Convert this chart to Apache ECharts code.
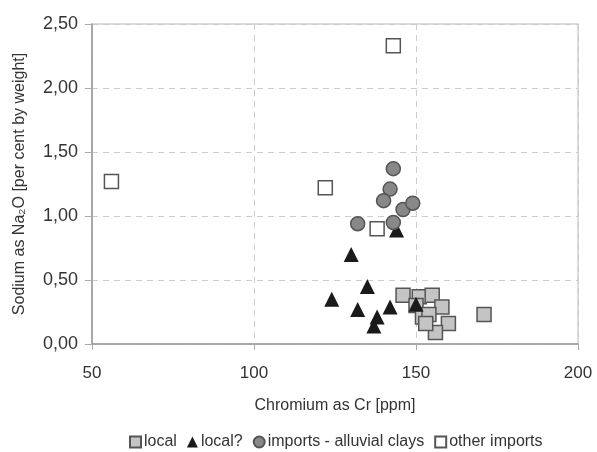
<!DOCTYPE html>
<html><head><meta charset="utf-8">
<script src="https://cdn.jsdelivr.net/npm/echarts@6/dist/echarts.min.js"></script>
<style>html,body{margin:0;padding:0;background:#fff}#c{width:597px;height:452px}</style>
</head><body><div id="c"></div>
<script>
const xTicks = [50, 100, 150, 200];
const yTicks = [0, 0.5, 1.0, 1.5, 2.0, 2.5];
const local = [[146,0.38],[151,0.37],[155,0.38],[150,0.30],[152,0.21],[158,0.29],[154,0.23],[160,0.16],[156,0.09],[153,0.16],[171,0.23]];
const localQ = [[130,0.70],[135,0.45],[124,0.35],[132,0.27],[142,0.29],[138,0.21],[137,0.14],[150,0.31],[144,0.89]];
const alluvial = [[132,0.94],[143,1.37],[142,1.21],[140,1.12],[143,0.95],[146,1.05],[149,1.10]];
const otherImports = [[56,1.27],[143,2.33],[122,1.22],[138,0.90]];
const names = ['local','local?','imports - alluvial clays','other imports'];

const chart = echarts.init(document.getElementById('c'));
const fmt = v => v.toFixed(2).replace('.', ',');
chart.setOption({
  animation: false,
  textStyle: {fontFamily: 'Liberation Sans, Arial, sans-serif'},
  grid: {left: 92, right: 19, top: 24, bottom: 108, show: true, borderColor: '#cfcfcf', borderWidth: 1.5},
  xAxis: {
    type: 'value', min: 50, max: 200, interval: 50,
    name: 'Chromium as Cr [ppm]', nameLocation: 'middle', nameGap: 54,
    nameTextStyle: {fontSize: 16, color: '#333'},
    axisLine: {lineStyle: {color: '#999', width: 1.5}},
    axisTick: {show: true, length: 6, lineStyle: {color: '#aaa'}},
    axisLabel: {fontSize: 17, color: '#333', margin: 21},
    splitLine: {show: true, lineStyle: {type: [6, 5], color: '#ccc'}}
  },
  yAxis: {
    type: 'value', min: 0, max: 2.5, interval: 0.5,
    name: 'Sodium as Na₂O [per cent by weight]', nameLocation: 'middle', nameGap: 64,
    nameTextStyle: {fontSize: 16, color: '#333'},
    axisLine: {show: true, lineStyle: {color: '#999', width: 1.5}},
    axisTick: {show: true, length: 7, lineStyle: {color: '#aaa'}},
    axisLabel: {fontSize: 18, color: '#333', margin: 14, formatter: fmt},
    splitLine: {show: true, lineStyle: {type: [6, 5], color: '#ccc'}}
  },
  legend: {
    top: 429, left: 124, itemWidth: 11, itemHeight: 11, itemGap: 10,
    textStyle: {fontSize: 16, color: '#333', padding: [0,0,0,-2]},
    data: names
  },
  series: [
    {name: names[0], type: 'scatter', symbol: 'rect', symbolSize: 14, data: local,
     itemStyle: {color: '#c4c4c4', borderColor: '#555', borderWidth: 1.5, opacity: 1}},
    {name: names[1], type: 'scatter', symbol: 'triangle', symbolSize: 15, data: localQ,
     itemStyle: {color: '#1a1a1a', borderColor: '#1a1a1a', borderWidth: 0, opacity: 1}},
    {name: names[2], type: 'scatter', symbol: 'circle', symbolSize: 14, data: alluvial,
     itemStyle: {color: '#888888', borderColor: '#555', borderWidth: 1.5, opacity: 1}},
    {name: names[3], type: 'scatter', symbol: 'rect', symbolSize: 14, data: otherImports,
     itemStyle: {color: '#ffffff', borderColor: '#555', borderWidth: 1.5, opacity: 1}}
  ]
});
</script></body></html>
